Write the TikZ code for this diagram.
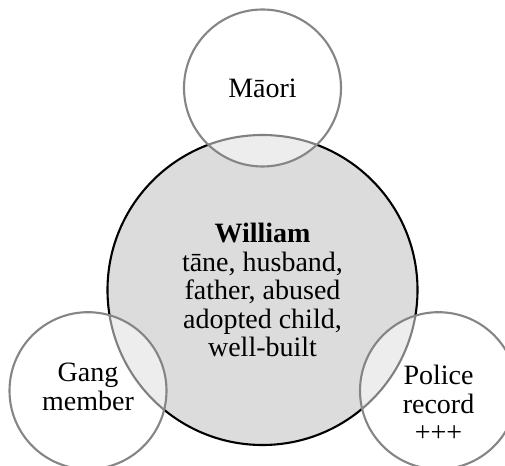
\documentclass[tikz,border=0pt]{standalone}
\usepackage{fontspec}
\setmainfont{Liberation Serif}
\usetikzlibrary{positioning}

\definecolor{ringgray}{RGB}{133,133,133}
\definecolor{corefill}{RGB}{220,220,220}

\begin{document}
\begin{tikzpicture}[x=1pt, y=1pt,
  core/.style={circle, draw=black, line width=2.1pt, fill=corefill, minimum size=310pt, inner sep=0pt},
  ring/.style={circle, draw=ringgray, line width=2.1pt, fill=white, fill opacity=0.5, text opacity=1, minimum size=157pt, inner sep=0pt},
  lbl/.style={align=center, font=\fontsize{28}{28.5}\selectfont}]

\useasboundingbox (0,0) rectangle (505,465);

% Centre circle
\node[core, lbl] (william) at (262.5,175) {\textbf{William}\\tāne, husband,\\father, abused\\adopted child,\\well-built};

% Overlapping circles
\node[ring] (maori) at (262.5,377) {};
\node[ring] (gang) at (88,74.3) {};
\node[ring] (police) at (438.5,74.3) {};

% Labels
\node[lbl] (maorilbl) at (maori.center) {Māori};
\node[lbl] (ganglbl) at ([yshift=4pt]gang.center) {Gang\\member};
\node[lbl] (policelbl) at ([yshift=-13pt]police.center) {Police\\record\\+++};

\end{tikzpicture}
\end{document}
